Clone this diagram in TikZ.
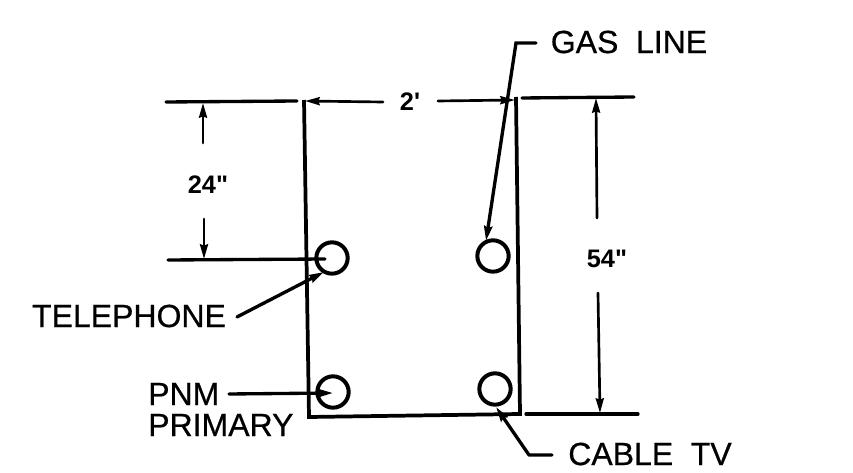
\documentclass[tikz,border=0pt]{standalone}
\usepackage{fontspec}
\setmainfont{Liberation Sans}[FakeBold=0.6]
\newfontfamily\numfont{Liberation Sans}
\usetikzlibrary{arrows.meta}
\tikzset{
  pipe/.style={circle,draw=black,line width=3pt,minimum size=23.5pt,inner sep=0pt},
  wall/.style={line width=2.8pt,line join=miter},
  dim/.style={line width=2pt,line cap=round},
  ext/.style={line width=2.5pt,line cap=round},
  tip/.style={-{Stealth[length=11pt,width=6pt,inset=1pt]}},
  lbl/.style={inner sep=0pt,font=\fontsize{24}{26}\selectfont},
  numlbl/.style={inner sep=0pt,font=\fontsize{19}{22}\selectfont\numfont\bfseries}
}
\begin{document}
\begin{tikzpicture}[x=0.75pt,y=-0.75pt]
\useasboundingbox (0,0) rectangle (853,473);
% box corners
\coordinate (tl) at (304,100);
\coordinate (bl) at (309,417);
\coordinate (br) at (520,414);
\coordinate (tr) at (516,97);
\draw[wall] (tl) -- (bl) -- (br) -- (tr);
% pipes
\node[pipe] (tel) at (332,258) {};
\node[pipe] (gas) at (493,256) {};
\node[pipe] (pnm) at (333,392) {};
\node[pipe] (cab) at (495,389) {};
% labels
\node[lbl] (lgas) at (629,42) {GAS\hspace{0.55em}LINE};
\node[lbl] (ltel) at (129,316) {TELEPHONE};
\node[lbl,anchor=west] (lpnm) at (148,394) {PNM};
\node[lbl,anchor=west] (lpri) at (148,425) {PRIMARY};
\node[lbl] (lcab) at (650,454) {CABLE\hspace{0.55em}TV};
\node[numlbl] (d2) at (410,102) {2'};
\node[numlbl] (d24) at (208,185) {24"};
\node[numlbl] (d54) at (607,259) {54"};
% extension line ends
\coordinate (e1a) at (166,102); \coordinate (e1b) at (297,101);
\coordinate (e2a) at (522,98);  \coordinate (e2b) at (634,97);
\coordinate (e3a) at (526,414); \coordinate (e3b) at (638,414);
\coordinate (e4a) at (168,260); \coordinate (e4b) at (325,259);
\draw[ext] (e1a) -- (e1b);
\draw[ext] (e2a) -- (e2b);
\draw[ext] (e3a) -- (e3b);
\draw[ext] (e4a) -- (e4b);
% dimension arrows
\coordinate (a1) at (383,102); \coordinate (a2) at (305,101);
\coordinate (a3) at (438,101); \coordinate (a4) at (515,100);
\coordinate (a5) at (203,143); \coordinate (a6) at (203,103);
\coordinate (a7) at (204,219); \coordinate (a8) at (204,259);
\coordinate (a9) at (597,218); \coordinate (a10) at (596,98);
\coordinate (a11) at (598,293); \coordinate (a12) at (600,413);
\draw[dim,tip] (a1) -- (a2);
\draw[dim,tip] (a3) -- (a4);
\draw[dim,tip] (a5) -- (a6);
\draw[dim,tip] (a7) -- (a8);
\draw[dim,tip] (a9) -- (a10);
\draw[dim,tip] (a11) -- (a12);
% leaders
\coordinate (g1) at (536,43); \coordinate (g2) at (516,43); \coordinate (g3) at (486,241);
\draw[ext,tip,line join=miter] (g1) -- (g2) -- (g3);
\coordinate (t1) at (237,317); \coordinate (t2) at (324,272);
\draw[ext,tip] (t1) -- (t2);
\coordinate (p1) at (229,394); \coordinate (p2) at (333,393);
\draw[ext,tip] (p1) -- (p2);
\coordinate (c1) at (552,455); \coordinate (c2) at (529,455); \coordinate (c3) at (496,407);
\draw[ext,tip,line join=round] (c1) -- (c2) -- (c3);
\end{tikzpicture}
\end{document}
